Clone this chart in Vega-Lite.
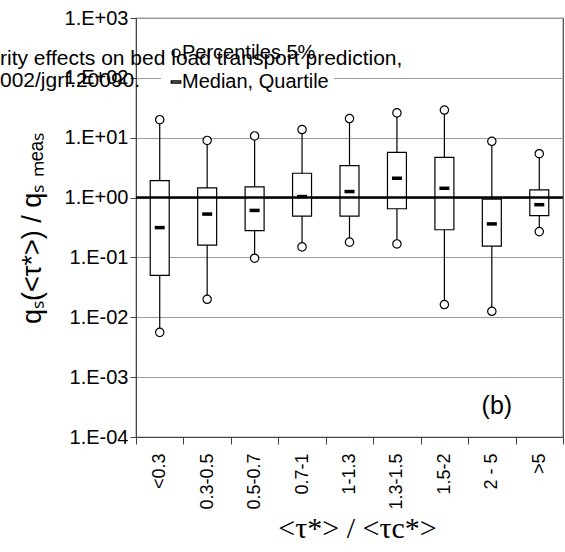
{
  "$schema": "https://vega.github.io/schema/vega-lite/v6.json",
  "width": 427,
  "height": 419,
  "autosize": {"type": "none"},
  "padding": {"left": 136, "top": 18, "right": 2, "bottom": 115},
  "background": "white",
  "title": {
    "text": ["rity effects on bed load transport prediction,", "002/jgrf.20090."],
    "frame": "group", "anchor": "start", "orient": "top", "offset": 0,
    "dx": -136, "dy": 83, "baseline": "top", "fontSize": 21,
    "font": "Liberation Sans", "fontWeight": "normal", "color": "black", "lineHeight": 22
  },
  "config": {
    "font": "Liberation Sans",
    "view": {"stroke": "#444", "strokeWidth": 1.2}
  },
  "data": {
    "values": [
      {"cat": "<0.3", "p5": 0.0056, "q1": 0.050, "med": 0.315, "q3": 1.92, "p95": 20},
      {"cat": "0.3-0.5", "p5": 0.020, "q1": 0.16, "med": 0.53, "q3": 1.45, "p95": 9.0},
      {"cat": "0.5-0.7", "p5": 0.097, "q1": 0.28, "med": 0.61, "q3": 1.51, "p95": 10.7},
      {"cat": "0.7-1", "p5": 0.15, "q1": 0.49, "med": 1.04, "q3": 2.55, "p95": 13.7},
      {"cat": "1-1.3", "p5": 0.18, "q1": 0.49, "med": 1.26, "q3": 3.43, "p95": 20.9},
      {"cat": "1.3-1.5", "p5": 0.168, "q1": 0.65, "med": 2.1, "q3": 5.7, "p95": 26},
      {"cat": "1.5-2", "p5": 0.0163, "q1": 0.29, "med": 1.43, "q3": 4.7, "p95": 29},
      {"cat": "2 - 5", "p5": 0.0126, "q1": 0.154, "med": 0.363, "q3": 0.94, "p95": 8.7},
      {"cat": ">5", "p5": 0.27, "q1": 0.50, "med": 0.76, "q3": 1.34, "p95": 5.4}
    ]
  },
  "layer": [
    {
      "mark": {"type": "rule", "color": "black", "strokeWidth": 1.2},
      "encoding": {
        "x": {
          "field": "cat", "type": "nominal",
          "scale": {"domain": ["<0.3", "0.3-0.5", "0.5-0.7", "0.7-1", "1-1.3", "1.3-1.5", "1.5-2", "2 - 5", ">5"], "paddingInner": 0, "paddingOuter": 0},
          "axis": {
            "title": "<τ*> / <τc*>",
            "tickBand": "extent",
            "labelAngle": -90,
            "labelFontSize": 18,
            "labelPadding": 9,
            "labelColor": "black",
            "tickSize": 7,
            "domainColor": "#444",
            "tickColor": "#444",
            "grid": false,
            "titleFont": "Liberation Serif",
            "titleFontSize": 30,
            "titleFontWeight": "normal",
            "titleColor": "black",
            "titleX": 221,
            "titleY": 91,
            "titleBaseline": "middle",
            "titleAlign": "center"
          }
        },
        "y": {
          "field": "p5", "type": "quantitative",
          "scale": {"type": "log", "domain": [0.0001, 1000], "nice": false},
          "axis": {
            "values": [0.0001, 0.001, 0.01, 0.1, 1, 10, 100, 1000],
            "labelExpr": "datum.value >= 1 ? '1.E+0' + round(log(datum.value)/LN10) : '1.E-0' + round(-log(datum.value)/LN10)",
            "title": "qₛ(<τ*>) / qₛ ₘₑₐₛ",
            "grid": true,
            "gridColor": "#999",
            "gridWidth": 1,
            "domainColor": "#444",
            "tickColor": "#444",
            "tickSize": 6,
            "labelFontSize": 20,
            "labelColor": "black",
            "labelPadding": 2,
            "titleFontSize": 27,
            "titleFontWeight": "normal",
            "titleColor": "black",
            "titleX": -104,
            "titleY": 210,
            "titleAngle": -90,
            "titleBaseline": "middle",
            "titleAlign": "center"
          }
        },
        "y2": {"field": "p95"}
      }
    },
    {
      "mark": {"type": "bar", "fill": "white", "stroke": "black", "strokeWidth": 1.2, "width": {"band": 0.4}},
      "encoding": {
        "x": {"field": "cat", "type": "nominal"},
        "y": {"field": "q1", "type": "quantitative"},
        "y2": {"field": "q3"}
      }
    },
    {
      "data": {"values": [{"ref": 1}]},
      "mark": {"type": "rule", "color": "black", "strokeWidth": 2.5},
      "encoding": {
        "y": {"field": "ref", "type": "quantitative"}
      }
    },
    {
      "mark": {"type": "tick", "color": "black", "opacity": 1, "thickness": 3.5, "size": 10},
      "encoding": {
        "x": {"field": "cat", "type": "nominal"},
        "y": {"field": "med", "type": "quantitative"}
      }
    },
    {
      "mark": {"type": "circle", "color": "white", "opacity": 1, "size": 70},
      "encoding": {
        "x": {"field": "cat", "type": "nominal"},
        "y": {"field": "p5", "type": "quantitative"}
      }
    },
    {
      "mark": {"type": "circle", "color": "white", "opacity": 1, "size": 70},
      "encoding": {
        "x": {"field": "cat", "type": "nominal"},
        "y": {"field": "p95", "type": "quantitative"}
      }
    },
    {
      "mark": {"type": "point", "filled": false, "color": "black", "strokeWidth": 1.2, "size": 70, "opacity": 1},
      "encoding": {
        "x": {"field": "cat", "type": "nominal"},
        "y": {"field": "p5", "type": "quantitative"},
        "shape": {
          "datum": "Percentiles 5%",
          "scale": {"domain": ["Percentiles 5%", "Median, Quartile"], "range": ["circle", "M-1.2,-0.25H1.2V0.25H-1.2Z"]},
          "legend": {
            "title": null,
            "orient": "none",
            "legendX": 25,
            "legendY": 20,
            "padding": 5,
            "fillColor": "white",
            "labelFontSize": 20,
            "labelColor": "black",
            "labelOffset": -4,
            "rowPadding": 9,
            "symbolSize": 60,
            "symbolStrokeWidth": 1.4
          }
        }
      }
    },
    {
      "mark": {"type": "point", "filled": false, "color": "black", "strokeWidth": 1.2, "size": 70, "opacity": 1},
      "encoding": {
        "x": {"field": "cat", "type": "nominal"},
        "y": {"field": "p95", "type": "quantitative"},
        "shape": {"datum": "Percentiles 5%"}
      }
    },
    {
      "data": {"values": [{"lab": "(b)", "xc": "2 - 5", "yv": 0.000335}]},
      "mark": {"type": "text", "fontSize": 25, "color": "black", "align": "center", "baseline": "middle", "dx": 5},
      "encoding": {
        "x": {"field": "xc", "type": "nominal"},
        "y": {"field": "yv", "type": "quantitative"},
        "text": {"field": "lab"}
      }
    }
  ]
}
